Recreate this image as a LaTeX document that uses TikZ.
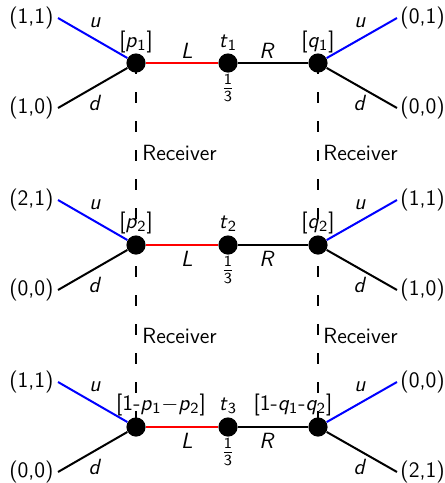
\documentclass[tikz,border=0pt]{standalone}
\usepackage{fontspec}
\usepackage{amsmath}
\usetikzlibrary{backgrounds}
\newcommand\vi[1]{\textit{#1}}
\newcommand\sbs[1]{\textsubscript{#1}}
\newcommand\third{$\frac{\textsf{1}}{\textsf{3}}$}
\begin{document}
\begin{tikzpicture}[x=0.5pt,y=-0.5pt,
  font=\sffamily\fontsize{11}{13}\selectfont,
  dot/.style={circle, fill=black, minimum size=9.6pt, inner sep=0pt},
  edge/.style={line width=1pt, black},
  uline/.style={line width=1pt, blue},
  lline/.style={line width=1pt, red},
  info/.style={line width=0.55pt, dash pattern=on 5.5pt off 9pt},
  lbl/.style={inner sep=0pt},
  frac/.style={inner sep=0pt, font=\sffamily\fontsize{11}{13}\selectfont}]
\useasboundingbox (0,0) rectangle (445,483);

% ---- nodes
\node[dot] (p1) at (136,63) {};
\node[dot] (t1) at (228,63) {};
\node[dot] (q1) at (318,63) {};
\node[dot] (p2) at (136,245) {};
\node[dot] (t2) at (228,245) {};
\node[dot] (q2) at (318,245) {};
\node[dot] (p3) at (136,427) {};
\node[dot] (t3) at (228,427) {};
\node[dot] (q3) at (318,427) {};

% ---- leaf ends
\coordinate (lu1) at (58,18);  \coordinate (ld1) at (58,108);
\coordinate (ru1) at (397,18); \coordinate (rd1) at (397,108);
\coordinate (lu2) at (58,200);  \coordinate (ld2) at (58,290);
\coordinate (ru2) at (397,200); \coordinate (rd2) at (397,290);
\coordinate (lu3) at (58,382);  \coordinate (ld3) at (58,472);
\coordinate (ru3) at (397,382); \coordinate (rd3) at (397,472);

% ---- information sets
\begin{pgfonlayer}{background}
\draw[info] (p1.center) -- (p2.center) -- (p3.center);
\draw[info] (q1.center) -- (q2.center) -- (q3.center);
\end{pgfonlayer}
\node[lbl, anchor=west] (rcv1) at (142,153) {Receiver};
\node[lbl, anchor=west] (rcv2) at (323,153) {Receiver};
\node[lbl, anchor=west] (rcv3) at (142,336) {Receiver};
\node[lbl, anchor=west] (rcv4) at (323,336) {Receiver};

% ---- edges
\draw[lline] (p1) -- (t1);  \draw[edge] (t1) -- (q1);
\draw[lline] (p2) -- (t2);  \draw[edge] (t2) -- (q2);
\draw[lline] (p3) -- (t3);  \draw[edge] (t3) -- (q3);
\draw[uline] (p1) -- (lu1); \draw[edge] (p1) -- (ld1);
\draw[uline] (q1) -- (ru1); \draw[edge] (q1) -- (rd1);
\draw[uline] (p2) -- (lu2); \draw[edge] (p2) -- (ld2);
\draw[uline] (q2) -- (ru2); \draw[edge] (q2) -- (rd2);
\draw[uline] (p3) -- (lu3); \draw[edge] (p3) -- (ld3);
\draw[uline] (q3) -- (ru3); \draw[edge] (q3) -- (rd3);

% ---- edge labels
\foreach \y/\n in {63/1,245/2,427/3}{
  \node[lbl] (u\n l) at (95,\y-40) {\vi{u}};
  \node[lbl] (d\n l) at (95,\y+40) {\vi{d}};
  \node[lbl] (u\n r) at (360,\y-40) {\vi{u}};
  \node[lbl] (d\n r) at (360,\y+40) {\vi{d}};
  \node[frac] (f\n) at (228,\y+25) {\third};
}
\node[lbl, anchor=base] (L1) at (187,58) {\vi{L}};
\node[lbl, anchor=base] (R1) at (267,58) {\vi{R}};
\node[lbl] (L2) at (187,259) {\vi{L}};
\node[lbl] (R2) at (267,259) {\vi{R}};
\node[lbl] (L3) at (187,441) {\vi{L}};
\node[lbl] (R3) at (267,441) {\vi{R}};

% ---- node labels
\node[lbl, anchor=base] (lp1) at (136,47) {[\vi{p}\sbs{1}]};
\node[lbl, anchor=base] (lt1) at (228,47) {\vi{t}\sbs{1}};
\node[lbl, anchor=base] (lq1) at (318,47) {[\vi{q}\sbs{1}]};
\node[lbl, anchor=base] (lp2) at (136,228) {[\vi{p}\sbs{2}]};
\node[lbl, anchor=base] (lt2) at (228,228) {\vi{t}\sbs{2}};
\node[lbl, anchor=base] (lq2) at (318,228) {[\vi{q}\sbs{2}]};
\node[lbl, anchor=base] (lp3) at (161,410) {[1-\vi{p}\sbs{1}$-$\vi{p}\sbs{2}]};
\node[lbl, anchor=base] (lt3) at (228,410) {\vi{t}\sbs{3}};
\node[lbl, anchor=base] (lq3) at (293,410) {[1-\vi{q}\sbs{1}-\vi{q}\sbs{2}]};

% ---- payoffs
\node[lbl, anchor=east] (a1) at (54,18) {(1,1)};
\node[lbl, anchor=east] (b1) at (54,108) {(1,0)};
\node[lbl, anchor=west] (c1) at (400,18) {(0,1)};
\node[lbl, anchor=west] (e1) at (400,108) {(0,0)};
\node[lbl, anchor=east] (a2) at (54,200) {(2,1)};
\node[lbl, anchor=east] (b2) at (54,290) {(0,0)};
\node[lbl, anchor=west] (c2) at (400,200) {(1,1)};
\node[lbl, anchor=west] (e2) at (400,290) {(1,0)};
\node[lbl, anchor=east] (a3) at (54,382) {(1,1)};
\node[lbl, anchor=east] (b3) at (54,472) {(0,0)};
\node[lbl, anchor=west] (c3) at (400,382) {(0,0)};
\node[lbl, anchor=west] (e3) at (400,472) {(2,1)};
\end{tikzpicture}
\end{document}
